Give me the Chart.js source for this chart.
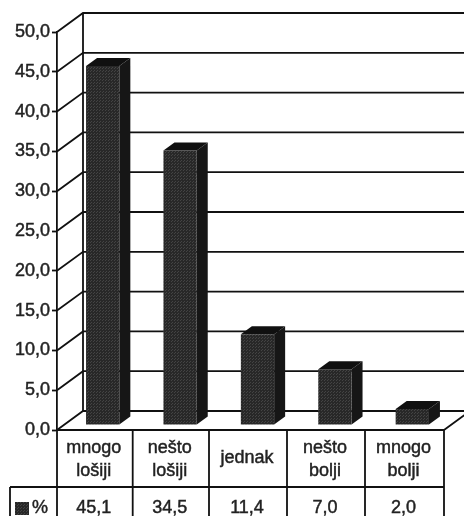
<!DOCTYPE html>
<html>
<head>
<meta charset="utf-8">
<script src="https://cdn.jsdelivr.net/npm/chart.js@4"></script>
<style>
  html, body { margin: 0; padding: 0; background: #fff; overflow: hidden; }
  canvas { display: block; filter: blur(0.4px); }
</style>
</head>
<body>
<canvas id="myChart" width="464" height="516"></canvas>
<script>
var categories = [["mnogo", "lošiji"], ["nešto", "lošiji"], ["jednak"], ["nešto", "bolji"], ["mnogo", "bolji"]];
var values = [45.1, 34.5, 11.4, 7.0, 2.0];
var seriesName = "%";

var lineColor = "#111111";
var textColor = "#222222";
var font = "18px 'Liberation Sans', Arial, sans-serif";
var textStroke = 0.45;

// how far the back wall sits behind the front plane
var wallX = 26, wallY = -19;
// where the bars stand on the floor, and how deep they are
var barX = 7, barY = -5;
var depthX = 11, depthY = -8;

function comma(v, digits) {
  return v.toFixed(digits).replace(".", ",");
}

// stippled fill of the bar fronts
function stipple(ctx) {
  var c = document.createElement("canvas");
  c.width = 3;
  c.height = 3;
  var p = c.getContext("2d");
  p.fillStyle = "#282828";
  p.fillRect(0, 0, 3, 3);
  p.fillStyle = "#444444";
  p.fillRect(0, 0, 1, 1);
  p.fillRect(2, 1, 1, 1);
  return ctx.createPattern(c, "repeat");
}

function poly(ctx, pts, fill) {
  ctx.beginPath();
  ctx.moveTo(pts[0][0], pts[0][1]);
  for (var i = 1; i < pts.length; i++) ctx.lineTo(pts[i][0], pts[i][1]);
  ctx.closePath();
  ctx.fillStyle = fill;
  ctx.fill();
}

function label(ctx, s, x, y) {
  ctx.fillText(s, x, y);
  ctx.strokeText(s, x, y);
}

var box3d = {
  id: "box3d",
  beforeDatasetsDraw: function (chart) {
    var ctx = chart.ctx, a = chart.chartArea, y = chart.scales.y;
    ctx.save();
    ctx.strokeStyle = lineColor;
    ctx.lineWidth = 1.8;

    // back wall lines with their diagonals to the front axis
    y.ticks.forEach(function (t) {
      var py = y.getPixelForValue(t.value);
      ctx.beginPath();
      ctx.moveTo(a.left, py);
      ctx.lineTo(a.left + wallX, py + wallY);
      ctx.lineTo(a.right + wallX, py + wallY);
      ctx.stroke();
    });
    ctx.beginPath();
    ctx.moveTo(a.left + wallX, a.top + wallY);
    ctx.lineTo(a.left + wallX, a.bottom + wallY);
    ctx.moveTo(a.right, a.bottom);
    ctx.lineTo(a.right + wallX, a.bottom + wallY);
    ctx.stroke();

    // sides and tops of the bars
    chart.getDatasetMeta(0).data.forEach(function (bar) {
      var l = bar.x - bar.width / 2 + barX, r = bar.x + bar.width / 2 + barX;
      var t = bar.y + barY, b = bar.base + barY;
      poly(ctx, [[r, t], [r + depthX, t + depthY], [r + depthX, b + depthY], [r, b]], "#161616");
      poly(ctx, [[l, t], [l + depthX, t + depthY], [r + depthX, t + depthY], [r, t]], "#101010");
    });
    ctx.restore();
  },
  beforeDatasetDraw: function (chart) {
    chart.ctx.save();
    chart.ctx.translate(barX, barY);
  },
  afterDatasetDraw: function (chart) {
    chart.ctx.restore();
  }
};

var dataTable = {
  id: "dataTable",
  afterDraw: function (chart) {
    var ctx = chart.ctx, a = chart.chartArea;
    var rowY = 487, bottom = 516, keyX = 10;
    // the scan squeezes the table a little towards the left
    var edges = [a.left, 132.7, 209, 287, 365, a.right];
    ctx.save();
    ctx.strokeStyle = lineColor;
    ctx.lineWidth = 1.8;
    ctx.beginPath();
    ctx.moveTo(a.left, a.bottom);
    ctx.lineTo(a.right, a.bottom);
    ctx.moveTo(keyX, rowY);
    ctx.lineTo(a.right, rowY);
    ctx.moveTo(keyX, rowY);
    ctx.lineTo(keyX, bottom);
    edges.forEach(function (ex) {
      ctx.moveTo(ex, a.bottom);
      ctx.lineTo(ex, bottom);
    });
    ctx.stroke();

    ctx.font = font;
    ctx.fillStyle = textColor;
    ctx.strokeStyle = textColor;
    ctx.lineWidth = textStroke;
    ctx.textAlign = "center";
    ctx.textBaseline = "alphabetic";
    categories.forEach(function (lines, i) {
      var px = (edges[i] + edges[i + 1]) / 2 - 1;
      if (lines.length === 1) {
        label(ctx, lines[0], px, 463);
      } else {
        label(ctx, lines[0], px, 453);
        label(ctx, lines[1], px, 476);
      }
      label(ctx, comma(values[i], 1), px, 513);
    });

    // key of the series
    ctx.fillStyle = stipple(ctx);
    ctx.fillRect(15, 502, 14, 13);
    ctx.fillStyle = textColor;
    ctx.textAlign = "left";
    label(ctx, seriesName, 32, 513);
    ctx.restore();
  }
};

var ctx = document.getElementById("myChart").getContext("2d");
var chart = new Chart(ctx, {
  type: "bar",
  data: {
    labels: categories,
    datasets: [{
      label: seriesName,
      data: values,
      backgroundColor: stipple(ctx),
      categoryPercentage: 1,
      barPercentage: 0.43,
      clip: false
    }]
  },
  plugins: [box3d, dataTable],
  options: {
    responsive: false,
    animation: false,
    layout: { padding: { top: 32, right: 20, bottom: 86, left: 0 } },
    plugins: { legend: { display: false }, tooltip: { enabled: false } },
    scales: {
      x: {
        afterFit: function (scale) { scale.height = 0; },
        ticks: { display: false },
        grid: { display: false },
        border: { display: false }
      },
      y: {
        min: 0,
        max: 50,
        afterFit: function (scale) { scale.width = 57; },
        ticks: {
          stepSize: 5,
          padding: 2,
          color: textColor,
          textStrokeColor: textColor,
          textStrokeWidth: textStroke,
          font: { family: "'Liberation Sans', Arial, sans-serif", size: 18 },
          callback: function (v) { return comma(v, 1); }
        },
        grid: { drawOnChartArea: false, tickLength: 5, tickColor: lineColor, tickWidth: 1.8 },
        border: { color: lineColor, width: 1.8 }
      }
    }
  }
});
</script>
</body>
</html>
